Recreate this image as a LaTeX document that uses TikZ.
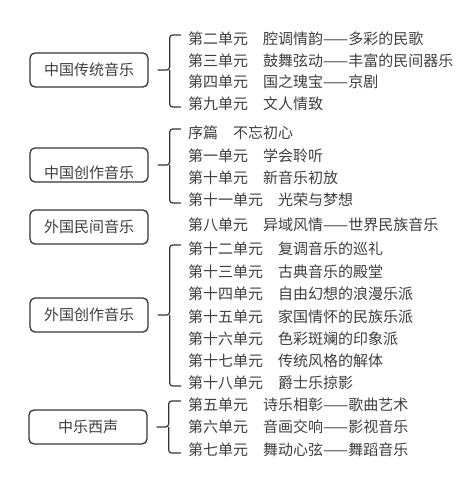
\documentclass[tikz,border=0pt]{standalone}
\usepackage{fontspec}
\setmainfont{Noto Sans CJK SC}
\definecolor{txtgray}{RGB}{62,62,62}
\definecolor{linegray}{RGB}{52,52,52}
\usetikzlibrary{positioning}

% curly brace from a box to its first and last unit
\newcommand\unitbrace[3]{%
  \draw[br] ([shift={(-7pt,4pt)}]#2.west) -| ([xshift=21pt]#1.east) -- ([xshift=9pt]#1.east);
  \draw[br] ([shift={(-7pt,-3pt)}]#3.west) -| ([xshift=21pt]#1.east);
}

\begin{document}
\begin{tikzpicture}[
  x=1pt, y=-1pt,
  box/.style={draw=linegray, line width=1.3pt, rounded corners=5pt, minimum width=118pt, minimum height=34pt,
    inner sep=0pt, text height=12pt, text depth=1pt, text=txtgray, font=\fontsize{15}{18}\selectfont},
  item/.style={anchor=west, inner sep=0pt, text height=12pt, text depth=1pt, text=txtgray, font=\fontsize{15}{18}\selectfont},
  br/.style={draw=linegray, line width=1.2pt, rounded corners=3pt},
]
  \useasboundingbox (0,0) rectangle (471,477);

  \node[box] (A) at (89,70) {中国传统音乐};
  \node[box, text height=28pt] (B) at (89,165) {中国创作音乐};
  \node[box] (C) at (89,227) {外国民间音乐};
  \node[box] (D) at (89,315) {外国创作音乐};
  \node[box] (E) at (88,427) {中乐西声};

  \node[item] (a1) at (188,39) {第二单元　腔调情韵——多彩的民歌};
  \node[item] (a2) at (188,61) {第三单元　鼓舞弦动——丰富的民间器乐};
  \node[item] (a3) at (188,82) {第四单元　国之瑰宝——京剧};
  \node[item] (a4) at (188,104) {第九单元　文人情致};

  \node[item] (b1) at (188,133) {序篇　不忘初心};
  \node[item] (b2) at (188,156) {第一单元　学会聆听};
  \node[item] (b3) at (188,178) {第十单元　新音乐初放};
  \node[item] (b4) at (188,200) {第十一单元　光荣与梦想};

  \node[item] (c1) at (188,225) {第八单元　异域风情——世界民族音乐};

  \node[item] (d1) at (188,249) {第十二单元　复调音乐的巡礼};
  \node[item] (d2) at (188,272) {第十三单元　古典音乐的殿堂};
  \node[item] (d3) at (188,294) {第十四单元　自由幻想的浪漫乐派};
  \node[item] (d4) at (188,317) {第十五单元　家国情怀的民族乐派};
  \node[item] (d5) at (188,339) {第十六单元　色彩斑斓的印象派};
  \node[item] (d6) at (188,361) {第十七单元　传统风格的解体};
  \node[item] (d7) at (188,383) {第十八单元　爵士乐掠影};

  \node[item] (e1) at (188,405) {第五单元　诗乐相彰——歌曲艺术};
  \node[item] (e2) at (188,427) {第六单元　音画交响——影视音乐};
  \node[item] (e3) at (188,450) {第七单元　舞动心弦——舞蹈音乐};

  \unitbrace{A}{a1}{a4}
  \unitbrace{B}{b1}{b4}
  \unitbrace{D}{d1}{d7}
  \unitbrace{E}{e1}{e3}
\end{tikzpicture}
\end{document}
